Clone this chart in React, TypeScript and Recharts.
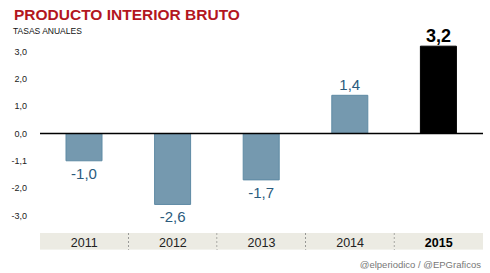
import React from "react";
import { Bar, BarChart, Cell, LabelList, ReferenceLine, XAxis, YAxis } from "recharts";

const years = ["2011", "2012", "2013", "2014", "2015"];
const growth = [-1.0, -2.6, -1.7, 1.4, 3.2];
const valueLabels = ["-1,0", "-2,6", "-1,7", "1,4", "3,2"];
const yTicks = [-3, -2, -1, 0, 1, 2, 3];
const yTickLabels = ["-3,0", "-2,0", "-1,1", "0,0", "1,0", "2,0", "3,0"];

const W = 490;
const H = 273;
const M = { top: 38, right: 7, left: 0, bottom: 20 };
const Y_AXIS_W = 40;
const X_AXIS_H = 24;
const BAND_W = (W - M.left - M.right - Y_AXIS_W) / years.length;

const data = years.map((y, i) => ({ year: y, value: growth[i], label: valueLabels[i] }));

const YearTick = (props: any) => {
    const { x, y, payload, index } = props;
    const last = index === years.length - 1;
    return (
        <g>
            <rect x={x - BAND_W / 2} y={y + 4} width={BAND_W} height={16.6} fill="#ecebe3" />
            {!last && (
                <line
                    x1={x + BAND_W / 2}
                    x2={x + BAND_W / 2}
                    y1={y + 4}
                    y2={y + 20.6}
                    stroke="#555"
                    strokeDasharray="2 2"
                    strokeWidth={1}
                />
            )}
            <text
                x={x}
                y={y + 18}
                textAnchor="middle"
                fontSize={12.5}
                fontWeight={last ? "bold" : "normal"}
                fill={last ? "#000" : "#222"}
            >
                {payload.value}
            </text>
        </g>
    );
};

const ValueLabel = (props: any) => {
    const { x, y, width, height, index } = props;
    const v = growth[index];
    const top = Math.min(y, y + height);
    const bottom = Math.max(y, y + height);
    const last = index === years.length - 1;
    const cx = x + width / 2;
    if (v < 0) {
        return (
            <text x={cx} y={bottom + 18} textAnchor="middle" fontSize={15} fill="#2b5b7d">
                {valueLabels[index]}
            </text>
        );
    }
    return (
        <text
            x={cx}
            y={top - (last ? 4 : 5)}
            textAnchor="middle"
            fontSize={last ? 18 : 15}
            fontWeight={last ? "bold" : "normal"}
            fill={last ? "#000" : "#2b5b7d"}
        >
            {valueLabels[index]}
        </text>
    );
};

export default function App() {
    return (
        <div style={{ position: "absolute", left: 0, top: 0, width: W, height: H, background: "#fff", fontFamily: "'Liberation Sans', Arial, sans-serif" }}>
            <BarChart width={W} height={H} data={data} margin={M} style={{ fontFamily: "'Liberation Sans', Arial, sans-serif" }}>
                <XAxis
                    dataKey="year"
                    axisLine={false}
                    tickLine={false}
                    tickSize={0}
                    tickMargin={0}
                    height={X_AXIS_H}
                    interval={0}
                    tick={<YearTick />}
                />
                <YAxis
                    domain={[-3.5, 3.5]}
                    ticks={yTicks}
                    width={Y_AXIS_W}
                    axisLine={false}
                    tickLine={false}
                    tickSize={0}
                    tickMargin={13}
                    tick={{ fontSize: 9, fill: "#222" }}
                    tickFormatter={(v: number) => yTickLabels[yTicks.indexOf(v)]}
                />
                <Bar dataKey="value" barSize={36} isAnimationActive={false}>
                    {data.map((d, i) => (
                        <Cell
                            key={d.year}
                            fill={i === years.length - 1 ? "#000" : "#7599af"}
                            stroke={i === years.length - 1 ? "#000" : "#5e8aa4"}
                            strokeWidth={1}
                        />
                    ))}
                    <LabelList dataKey="label" content={<ValueLabel />} />
                </Bar>
                <ReferenceLine y={0} stroke="#000" strokeWidth={1.5} />
            </BarChart>
            <svg width={W} height={H} style={{ position: "absolute", left: 0, top: 0, pointerEvents: "none" }}>
                <text x={14} y={19.5} fontSize={15.5} fontWeight="bold" fill="#b3161e">
                    PRODUCTO INTERIOR BRUTO
                </text>
                <text x={13} y={34} fontSize={8.5} fill="#111">
                    TASAS ANUALES
                </text>
                <text x={481} y={268} fontSize={9.5} fill="#777" textAnchor="end">
                    @elperiodico / @EPGraficos
                </text>
            </svg>
        </div>
    );
}
